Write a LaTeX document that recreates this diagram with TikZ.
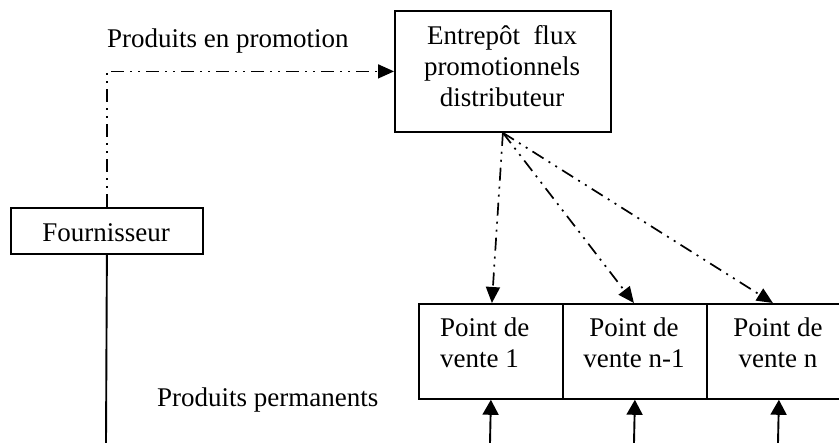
\documentclass[tikz,border=0pt]{standalone}
\usepackage{fontspec}
\setmainfont{Liberation Serif}
\usetikzlibrary{arrows.meta}
\begin{document}
\begin{tikzpicture}[x=1pt,y=-1pt,
  box/.style={draw,line width=1.8pt,rectangle,inner sep=0pt,anchor=north west},
  txt/.style={inner sep=0pt,font=\fontsize{27}{31}\selectfont},
  dd/.style={line width=1.7pt,dash pattern=on 13pt off 6pt on 2pt off 6pt on 2pt off 6pt},
  tip/.style={-{Triangle[length=16pt,width=14pt]}},
  solidline/.style={line width=1.9pt}]
\useasboundingbox (0,0) rectangle (839,443);
\clip (0,0) rectangle (839,443);
% boxes
\node[box,minimum width=216pt,minimum height=121pt] (ent) at (394,10) {};
\node[box,minimum width=192pt,minimum height=46pt] (four) at (10,207) {};
\node[box,minimum width=144pt,minimum height=95pt] (p1) at (418,303) {};
\node[box,minimum width=144pt,minimum height=95pt] (p2) at (562,303) {};
\node[box,minimum width=144pt,minimum height=95pt] (p3) at (706,303) {};
% texts
\node[txt,anchor=base] (t1) at (502,45) {Entrepôt~ flux};
\node[txt,anchor=base] (t2) at (502,76) {promotionnels};
\node[txt,anchor=base] (t3) at (502,107) {distributeur};
\node[txt,anchor=base] (tf) at (106,242) {Fournisseur};
\node[txt,anchor=base west] (p1a) at (440,337) {Point de};
\node[txt,anchor=base west] (p1b) at (440,368) {vente 1};
\node[txt,anchor=base] (p2a) at (634,337) {Point de};
\node[txt,anchor=base] (p2b) at (634,368) {vente n-1};
\node[txt,anchor=base] (p3a) at (778,337) {Point de};
\node[txt,anchor=base] (p3b) at (778,368) {vente n};
\node[txt,anchor=base west] (lpromo) at (107,48) {Produits en promotion};
\node[txt,anchor=base west] (lperm) at (157,407) {Produits permanents};
% free ends
\coordinate (fb) at (106,443);
\coordinate (b1) at (490,443);
\coordinate (b2) at (634,443);
\coordinate (b3) at (778,443);
% connectors
\draw[dd,tip] (four.north) |- (ent.west);
\draw[solidline] (four.south) -- (fb);
\draw[dd,tip] (ent.south) -- ([xshift=1pt]p1.north);
\draw[dd,tip] (ent.south) -- ([xshift=-1pt]p2.north);
\draw[dd,tip] (ent.south) -- ([xshift=-6pt]p3.north);
\draw[solidline,-{Triangle[length=15pt,width=16pt]}] (b1) -- (p1.south);
\draw[solidline,-{Triangle[length=15pt,width=16pt]}] (b2) -- (p2.south);
\draw[solidline,-{Triangle[length=15pt,width=16pt]}] (b3) -- (p3.south);
\end{tikzpicture}
\end{document}
